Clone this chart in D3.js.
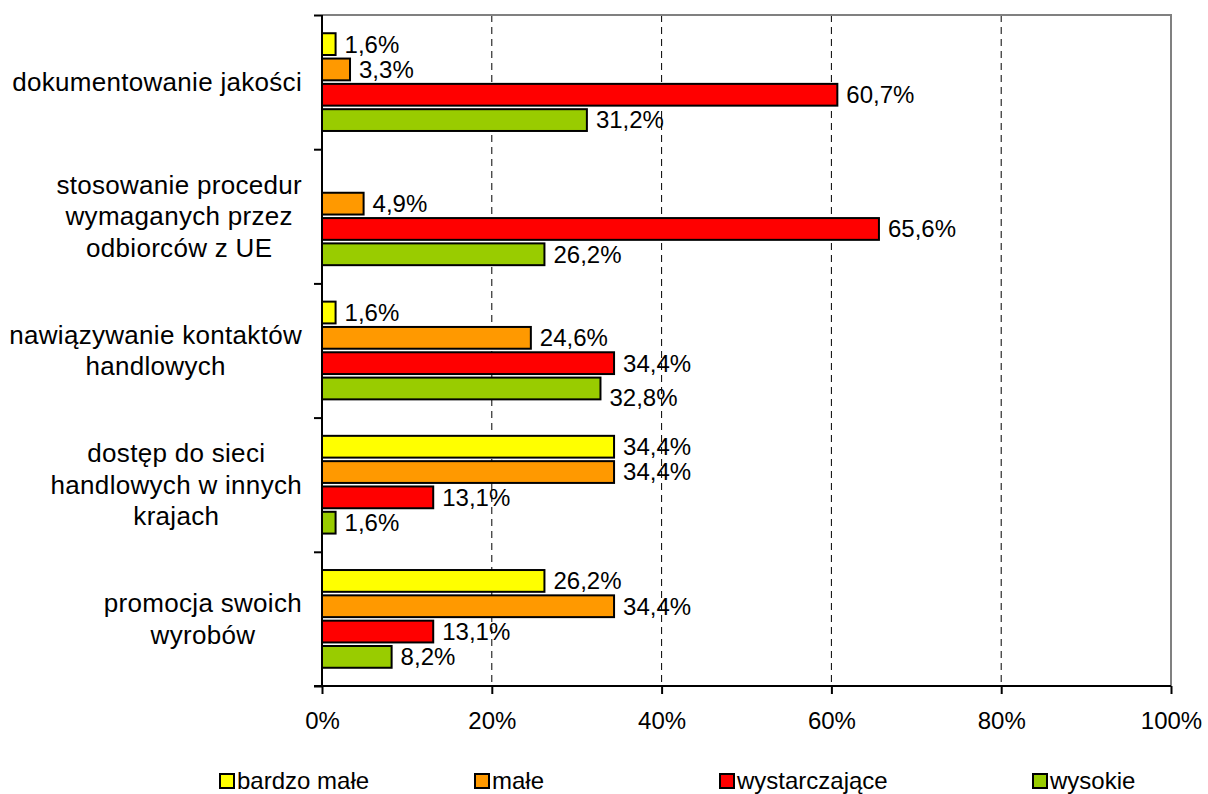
<!DOCTYPE html>
<html>
<head>
<meta charset="utf-8">
<script src="https://cdn.jsdelivr.net/npm/d3@7"></script>
<style>
  html, body { margin: 0; padding: 0; background: #fff; }
  svg { display: block; font-family: "Liberation Sans", Arial, sans-serif; }
</style>
</head>
<body>
<svg id="chart" width="1208" height="794"></svg>
<script>
// ---- data ----
const categories = [
  ["dokumentowanie jakości"],
  ["stosowanie procedur", "wymaganych przez", "odbiorców z UE"],
  ["nawiązywanie kontaktów", "handlowych"],
  ["dostęp do sieci", "handlowych w innych", "krajach"],
  ["promocja swoich", "wyrobów"]
];
const seriesNames = ["bardzo małe", "małe", "wystarczające", "wysokie"];
const seriesColors = ["#FFFF00", "#FF9900", "#FF0000", "#99CC00"];
const bardzoMale    = [1.6, 0,    1.6,  34.4, 26.2];
const male          = [3.3, 4.9,  24.6, 34.4, 34.4];
const wystarczajace = [60.7, 65.6, 34.4, 13.1, 13.1];
const wysokie       = [31.2, 26.2, 32.8, 1.6,  8.2];
const xTicks = [0, 20, 40, 60, 80, 100];

const seriesValues = [bardzoMale, male, wystarczajace, wysokie];

(function () {
// ---- layout ----
const svg = d3.select("#chart");
const pL = 322, pR = 1171, pT = 15, pB = 686;
const fontSize = 24;

const x = d3.scaleLinear().domain([0, 100]).range([pL, pR]);
const y = d3.scaleBand().domain(d3.range(categories.length)).range([pT, pB]).padding(0);
const ys = d3.scaleBand().domain(d3.range(seriesNames.length))
  .range([0, y.bandwidth()]).paddingInner(0.14).paddingOuter(0.72);

const fmt = v => d3.format(".1f")(v).replace(".", ",") + "%";

// gridlines (dashed)
svg.append("g").selectAll("line").data(xTicks.filter(t => t > 0 && t < 100)).join("line")
  .attr("x1", d => x(d)).attr("x2", d => x(d))
  .attr("y1", pT).attr("y2", pB)
  .attr("stroke", "#000").attr("stroke-width", 1).attr("stroke-dasharray", "7,5");

// plot frame top and right (gray)
svg.append("path")
  .attr("d", `M${pL},${pT}H${pR}V${pB}`)
  .attr("fill", "none").attr("stroke", "#808080").attr("stroke-width", 2);

// bars
const gBars = svg.append("g");
categories.forEach((c, ci) => {
  seriesValues.forEach((vals, si) => {
    const v = vals[ci];
    if (!v) return;
    const yy = y(ci) + ys(si);
    gBars.append("rect")
      .attr("x", x(0)).attr("y", yy)
      .attr("width", x(v) - x(0)).attr("height", ys.bandwidth())
      .attr("fill", seriesColors[si]).attr("stroke", "#000").attr("stroke-width", 2);
  });
});

// value labels
const nudge = { "2-3": 9 };
const gLab = svg.append("g");
categories.forEach((c, ci) => {
  seriesValues.forEach((vals, si) => {
    const v = vals[ci];
    if (!v) return;
    const yy = y(ci) + ys(si) + ys.bandwidth() / 2 + (nudge[ci + "-" + si] || 0);
    gLab.append("text")
      .attr("x", x(v) + 9).attr("y", yy).attr("dy", "0.35em")
      .attr("font-size", fontSize).attr("fill", "#000")
      .text(fmt(v));
  });
});

// y axis (left)
const yAxis = d3.axisLeft(d3.scaleLinear().domain([0, categories.length]).range([pT, pB]))
  .tickValues(d3.range(categories.length + 1)).tickSize(8).tickFormat("");
const gy = svg.append("g").attr("transform", `translate(${pL},0)`).call(yAxis);
gy.select(".domain").attr("stroke", "#000").attr("stroke-width", 2).attr("d", `M0,${pT}V${pB}`);
gy.selectAll(".tick line").attr("stroke", "#000").attr("stroke-width", 2);

// x axis (bottom)
const xAxis = d3.axisBottom(x).tickValues(xTicks).tickSize(8).tickPadding(18).tickFormat(d => d + "%");
const gx = svg.append("g").attr("transform", `translate(0,${pB})`).call(xAxis);
gx.select(".domain").attr("stroke", "#000").attr("stroke-width", 2).attr("d", `M${pL - 8},0H${pR}`);
gx.selectAll(".tick line").attr("stroke", "#000").attr("stroke-width", 2);
gx.selectAll(".tick text").attr("font-size", fontSize).attr("fill", "#000")
  .attr("font-family", "'Liberation Sans', Arial, sans-serif");

// category labels: lines centered in box, box right-aligned
const lineH = 31.5;
const boxRight = 302;
categories.forEach((lines, ci) => {
  const cy = y(ci) + y.bandwidth() / 2;
  const g = svg.append("g");
  const texts = lines.map((ln, li) => g.append("text")
    .attr("y", cy + (li - (lines.length - 1) / 2) * lineH).attr("dy", "0.35em")
    .attr("font-size", 26).attr("letter-spacing", "0.3px")
    .attr("fill", "#000").attr("text-anchor", "middle")
    .text(ln));
  const maxW = d3.max(texts, t => t.node().getComputedTextLength());
  texts.forEach(t => t.attr("x", boxRight - maxW / 2));
});

// legend
const legendX = [219, 474, 719, 1032];
const legendY = 781;
const gLeg = svg.append("g");
seriesNames.forEach((name, i) => {
  gLeg.append("rect")
    .attr("x", legendX[i] + 1).attr("y", legendY - 7)
    .attr("width", 14).attr("height", 14)
    .attr("fill", seriesColors[i]).attr("stroke", "#000").attr("stroke-width", 2);
  gLeg.append("text")
    .attr("x", legendX[i] + 18).attr("y", legendY).attr("dy", "0.35em")
    .attr("font-size", fontSize).attr("fill", "#000").text(name);
});
})();
</script>
</body>
</html>
